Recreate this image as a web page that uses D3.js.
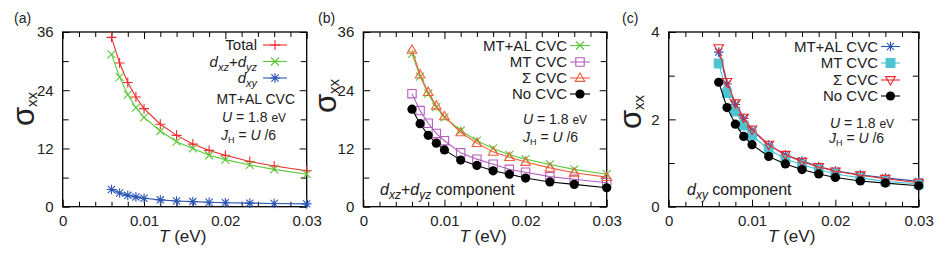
<!DOCTYPE html>
<html><head><meta charset="utf-8">
<script src="https://cdn.jsdelivr.net/npm/d3@7"></script>
<style>
html,body{margin:0;padding:0;background:#fff;}
svg{display:block;font-family:"Liberation Sans",Arial,sans-serif;}
</style></head>
<body><svg id="chart" width="948" height="255"></svg>
<script>
// ---- data ----
const T = [0.006,0.007,0.008,0.009,0.010,0.012,0.014,0.016,0.018,0.020,0.023,0.026,0.030];
const xTicks = [0,0.01,0.02,0.03];
const xTickLabels = ["0","0.01","0.02","0.03"];
const yTicksAB = [0,12,24,36];
const yTicksC = [0,2,4];

const a_total   = [34.9,29.6,25.6,22.6,20.2,17.0,14.7,12.9,11.6,10.6,9.3,8.4,7.4];
const a_dxzdyz  = [31.4,26.7,23.1,20.4,18.4,15.6,13.4,12.0,10.6,9.7,8.6,7.7,6.7];
const a_dxy     = [3.54,2.81,2.34,2.02,1.75,1.41,1.19,1.05,0.92,0.82,0.73,0.66,0.58];

const b_mtal    = [31.5,26.8,23.3,20.5,18.4,15.7,13.6,12.0,10.7,9.8,8.7,7.7,6.7];
const b_mt      = [23.3,19.8,17.2,15.1,13.6,11.1,9.8,8.75,7.7,7.1,6.2,5.65,4.95];
const b_sigma   = [32.3,27.2,23.6,20.8,18.6,15.3,13.1,11.3,10.2,9.2,8.0,7.0,6.1];
const b_nocvc   = [20.1,17.1,14.7,13.1,11.7,9.6,8.5,7.4,6.7,5.9,5.1,4.6,3.9];

const c_mtal    = [3.54,2.81,2.34,2.02,1.75,1.41,1.19,1.05,0.92,0.82,0.73,0.66,0.58];
const c_mt      = [3.28,2.60,2.18,1.86,1.63,1.31,1.09,0.96,0.85,0.75,0.66,0.58,0.52];
const c_sigma   = [3.63,2.86,2.37,2.04,1.77,1.42,1.19,1.03,0.91,0.81,0.72,0.64,0.55];
const c_nocvc   = [2.85,2.27,1.89,1.61,1.42,1.15,0.98,0.85,0.75,0.67,0.59,0.54,0.48];

// ---- styles ----
const RED="#f0282a", GREEN="#5cc83a", BLUE="#2a56b4", PURPLE="#b45ec0", ORANGE="#f0603c", CYAN="#4ec4d2", BLACK="#000";

const svg = d3.select("#chart");

function markerPath(type, s){
  switch(type){
    case "plus": return `M${-s},0H${s}M0,${-s}V${s}`;
    case "cross": return `M${-s},${-s}L${s},${s}M${-s},${s}L${s},${-s}`;
    case "star": {const k=s*0.75; return `M${-s},0H${s}M0,${-s}V${s}M${-k},${-k}L${k},${k}M${-k},${k}L${k},${-k}`;}
    case "square": return `M${-s},${-s}H${s}V${s}H${-s}Z`;
    case "triUp": return `M0,${-s*1.05}L${s},${s*0.7}L${-s},${s*0.7}Z`;
    case "triDown": return `M0,${s*1.05}L${s},${-s*0.7}L${-s},${-s*0.7}Z`;
  }
}
function drawMarker(g, type, color, x, y){
  if(type==="circle"){
    g.append("circle").attr("cx",x).attr("cy",y).attr("r",4.6).attr("fill",color);
    return;
  }
  let s = 4.5, fill="none";
  if(type==="plus") s=5;
  if(type==="cross") s=4;
  if(type==="star") s=4.8;
  if(type==="square") s=4.2;
  if(type==="fsquare"){ type="square"; s=4.4; fill=color; }
  if(type==="triUp"||type==="triDown") s=4.8;
  g.append("path").attr("d",markerPath(type,s)).attr("transform",`translate(${x},${y})`)
    .attr("fill",fill).attr("stroke",color).attr("stroke-width",1.1);
}

function rich(g, x, y, anchor, size, segs){
  const text = g.append("text").attr("x",x).attr("y",y).attr("text-anchor",anchor)
    .attr("font-size",size).attr("fill","#222");
  let shift=0;
  segs.forEach(s=>{
    const ts = text.append("tspan").text(s.t);
    if(s.it) ts.attr("font-style","italic");
    if(s.fs) ts.attr("font-size",s.fs);
    const target = s.sub||0;
    if(target!==shift){ ts.attr("dy",target-shift); shift=target; }
  });
  return text;
}

const panels = [
  {label:"(a)", labelX:14, x0:62.7, x1:306.7, yMax:36, yTicks:yTicksAB, yMinorStep:6,
   ylab:{x:34, y:109},
   series:[
     {v:a_total, color:RED, m:"plus", name:[{t:"Total"}]},
     {v:a_dxzdyz, color:GREEN, m:"cross", name:[{t:"d",it:1},{t:"xz",it:1,fs:11,sub:4},{t:"+"},{t:"d",it:1},{t:"yz",it:1,fs:11,sub:4}]},
     {v:a_dxy, color:BLUE, m:"star", name:[{t:"d",it:1},{t:"xy",it:1,fs:11,sub:4}]}
   ],
   leg:{textEnd:257, lx0:263, lx1:287, rows:[45,61.5,78]},
   notes:[
     {x:295, y:104, anchor:"end", segs:[{t:"MT+AL CVC"}]},
     {x:222, y:122, anchor:"start", segs:[{t:"U",it:1},{t:" = 1.8 "},{t:"eV",fs:12}]},
     {x:221, y:140, anchor:"start", segs:[{t:"J",it:1},{t:"H",fs:9,sub:3},{t:" = ",sub:0},{t:"U",it:1},{t:" /6"}]}
   ]},
  {label:"(b)", labelX:318, x0:363.3, x1:606.7, yMax:36, yTicks:yTicksAB, yMinorStep:6,
   ylab:{x:336, y:96},
   series:[
     {v:b_mtal, color:GREEN, m:"cross", name:[{t:"MT+AL CVC"}]},
     {v:b_mt, color:PURPLE, m:"square", name:[{t:"MT CVC"}]},
     {v:b_sigma, color:ORANGE, m:"triUp", name:[{t:"Σ CVC"}]},
     {v:b_nocvc, color:BLACK, m:"circle", name:[{t:"No CVC"}]}
   ],
   leg:{textEnd:567, lx0:570, lx1:590, rows:[45.5,62,78,94]},
   notes:[
     {x:523, y:123.5, anchor:"start", segs:[{t:"U",it:1},{t:" = 1.8 "},{t:"eV",fs:12}]},
     {x:523, y:142, anchor:"start", segs:[{t:"J",it:1},{t:"H",fs:9,sub:3},{t:" = ",sub:0},{t:"U",it:1},{t:" /6"}]},
     {x:380, y:195, anchor:"start", size:16, segs:[{t:"d",it:1},{t:"xz",it:1,fs:12,sub:4},{t:"+"},{t:"d",it:1},{t:"yz",it:1,fs:12,sub:4},{t:" component",sub:0}]}
   ]},
  {label:"(c)", labelX:622, x0:668.7, x1:918.7, yMax:4, yTicks:yTicksC, yMinorStep:1,
   ylab:{x:641, y:112},
   series:[
     {v:c_mtal, color:BLUE, m:"star", name:[{t:"MT+AL CVC"}]},
     {v:c_mt, color:CYAN, m:"fsquare", name:[{t:"MT CVC"}]},
     {v:c_sigma, color:RED, m:"triDown", name:[{t:"Σ CVC"}]},
     {v:c_nocvc, color:BLACK, m:"circle", name:[{t:"No CVC"}]}
   ],
   leg:{textEnd:878, lx0:881, lx1:900, rows:[46.5,63,80,96]},
   notes:[
     {x:830, y:127.5, anchor:"start", segs:[{t:"U",it:1},{t:" = 1.8 "},{t:"eV",fs:12}]},
     {x:829, y:143, anchor:"start", segs:[{t:"J",it:1},{t:"H",fs:9,sub:3},{t:" = ",sub:0},{t:"U",it:1},{t:" /6"}]},
     {x:687, y:195, anchor:"start", size:16, segs:[{t:"d",it:1},{t:"xy",it:1,fs:12,sub:4},{t:" component",sub:0}]}
   ]}
];

const yTop = 32, yBot = 206.7;

panels.forEach(p=>{
  const g = svg.append("g");
  const x = d3.scaleLinear().domain([0,0.03]).range([p.x0,p.x1]);
  const y = d3.scaleLinear().domain([0,p.yMax]).range([yBot,yTop]);
  const xMinor = d3.range(0,0.0301,0.002).filter(v=>Math.abs(v*100-Math.round(v*100))>1e-6);
  const yMinor = d3.range(p.yMinorStep, p.yMax, p.yMinorStep*2);

  const styleAxis = sel=>{ sel.select(".domain").remove(); sel.selectAll("line").attr("stroke","#000").attr("stroke-width",1);
    sel.selectAll("text").attr("font-size",15).attr("fill","#222").attr("font-family","Liberation Sans, Arial, sans-serif"); };
  g.append("g").attr("transform",`translate(0,${yBot})`)
    .call(d3.axisBottom(x).tickValues(xTicks).tickFormat((d,i)=>xTickLabels[i]).tickSize(-7).tickPadding(9)).call(styleAxis);
  g.append("g").attr("transform",`translate(0,${yBot})`)
    .call(d3.axisBottom(x).tickValues(xMinor).tickFormat("").tickSize(-5)).call(styleAxis);
  g.append("g").attr("transform",`translate(0,${yTop})`)
    .call(d3.axisTop(x).tickValues(xTicks).tickFormat("").tickSize(-7)).call(styleAxis);
  g.append("g").attr("transform",`translate(0,${yTop})`)
    .call(d3.axisTop(x).tickValues(xMinor).tickFormat("").tickSize(-5)).call(styleAxis);
  g.append("g").attr("transform",`translate(${p.x0},0)`)
    .call(d3.axisLeft(y).tickValues(p.yTicks).tickFormat(d3.format("d")).tickSize(-7).tickPadding(9)).call(styleAxis);
  g.append("g").attr("transform",`translate(${p.x0},0)`)
    .call(d3.axisLeft(y).tickValues(yMinor).tickFormat("").tickSize(-6)).call(styleAxis);
  g.append("g").attr("transform",`translate(${p.x1},0)`)
    .call(d3.axisRight(y).tickValues(p.yTicks).tickFormat("").tickSize(-7)).call(styleAxis);
  g.append("g").attr("transform",`translate(${p.x1},0)`)
    .call(d3.axisRight(y).tickValues(yMinor).tickFormat("").tickSize(-6)).call(styleAxis);

  g.append("rect").attr("x",p.x0).attr("y",yTop).attr("width",p.x1-p.x0).attr("height",yBot-yTop)
    .attr("fill","none").attr("stroke","#000").attr("stroke-width",1.3);

  const line = d3.line().x((d,i)=>x(T[i])).y(d=>y(d));
  p.series.forEach(s=>{
    g.append("path").datum(s.v).attr("d",line).attr("fill","none").attr("stroke",s.color).attr("stroke-width",1.1);
    s.v.forEach((v,i)=>drawMarker(g, s.m, s.color, x(T[i]), y(v)));
  });

  p.series.forEach((s,i)=>{
    const ry = p.leg.rows[i];
    rich(g, p.leg.textEnd, ry+5, "end", 15, s.name);
    g.append("line").attr("x1",p.leg.lx0).attr("x2",p.leg.lx1).attr("y1",ry).attr("y2",ry)
      .attr("stroke",s.color).attr("stroke-width",1.1);
    drawMarker(g, s.m, s.color, (p.leg.lx0+p.leg.lx1)/2, ry);
  });

  p.notes.forEach(n=>rich(g, n.x, n.y, n.anchor, n.size||14, n.segs));

  g.append("text").attr("x",p.labelX).attr("y",23).attr("font-size",14).attr("fill","#222").text(p.label);

  const yl = g.append("text").attr("transform",`translate(${p.ylab.x},${p.ylab.y}) rotate(-90)`)
    .attr("text-anchor","middle").attr("fill","#222");
  yl.append("tspan").attr("font-size",31).text("σ");
  yl.append("tspan").attr("font-size",15).attr("dy",3).text("xx");

  const xl = g.append("text").attr("x",(p.x0+p.x1)/2 - 2).attr("y",242).attr("text-anchor","middle")
    .attr("font-size",17).attr("fill","#222");
  xl.append("tspan").attr("font-style","italic").text("T");
  xl.append("tspan").text(" (eV)");
});
</script>
</body></html>
